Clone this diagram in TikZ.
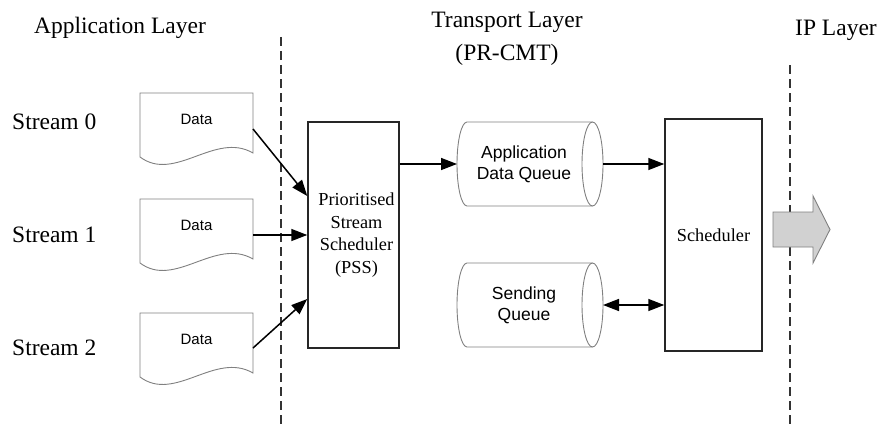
\documentclass[tikz,border=0pt]{standalone}
\usepackage{fontspec}
\setmainfont{Liberation Serif}
\newfontfamily\arialf{Liberation Sans}
\usetikzlibrary{arrows.meta,calc}
\begin{document}
\begin{tikzpicture}[x=1pt,y=-1pt,
  title/.style={font=\fontsize{23.5}{33}\selectfont, inner sep=0pt, align=center},
  boxnode/.style={draw=black!85, line width=1.5pt, inner sep=0pt, align=center,
     font=\fontsize{18.3}{22.5}\selectfont},
  frame/.style={inner sep=0pt, outer sep=0pt},
  docline/.style={draw=black!50, line width=0.9pt},
  sanstext/.style={font=\arialf\fontsize{17.5}{21}\selectfont, align=center, inner sep=0pt},
  datatext/.style={font=\arialf\fontsize{15}{18}\selectfont, inner sep=0pt},
  tip/.style={Triangle[length=16pt,width=12pt]},
  arr/.style={line width=1.5pt, -{Triangle[length=16pt,width=12pt]}},
  darr/.style={line width=1.5pt, {Triangle[length=16pt,width=12pt]}-{Triangle[length=16pt,width=12pt]}},
  dashline/.style={draw=black!80, line width=2.2pt, dash pattern=on 9pt off 5pt}
]
\useasboundingbox (0,0) rectangle (880,428);

% titles
\node[title] (tapp) at (120,28) {Application Layer};
\node[title] (ttr) at (507,38.5) {Transport Layer\\(PR-CMT)};
\node[title] (tip) at (836,30) {IP Layer};

% dashed layer boundaries
\coordinate (l1a) at (281,37);
\coordinate (l1b) at (281,428);
\coordinate (l2a) at (790,65);
\coordinate (l2b) at (790,425);
\draw[dashline] (l1a) -- (l1b);
\draw[dashline] (l2a) -- (l2b);

% stream labels
\node[title, anchor=west] (s0) at (12,122) {Stream 0};
\node[title, anchor=west] (s1) at (12,235) {Stream 1};
\node[title, anchor=west] (s2) at (12,348) {Stream 2};

% documents
\node[frame, anchor=north west, minimum width=113pt, minimum height=72pt] (d0) at (140,93) {};
\node[frame, anchor=north west, minimum width=113pt, minimum height=72pt] (d1) at (140,199) {};
\node[frame, anchor=north west, minimum width=113pt, minimum height=72pt] (d2) at (140,313) {};
\foreach \d in {d0,d1,d2}{
  \draw[docline, shift={(\d.north west)}] (0,0) -- (113,0) -- (113,60)
     .. controls (75,38) and (35,90) .. (0,64) -- cycle;
  \node[datatext] (\d t) at ([yshift=10pt]\d.center) {Data};
}

% PSS
\node[boxnode, minimum width=91pt, minimum height=226pt] (pss) at (353.5,235) {};
\node[align=center, inner sep=0pt, font=\fontsize{18.3}{22.5}\selectfont] (psst)
  at ([xshift=3pt]pss.center) {Prioritised\\Stream\\Scheduler\\(PSS)};

% Scheduler
\node[boxnode, minimum width=97pt, minimum height=232pt] (sch) at (713.5,235) {Scheduler};

% queues
\node[frame, minimum width=146pt, minimum height=84pt] (aq) at (530,164) {};
\node[frame, minimum width=146pt, minimum height=84pt] (sq) at (530,305) {};
\foreach \q in {aq,sq}{
  \draw[docline] ([xshift=-10.5pt]\q.north east) -- ([xshift=10pt]\q.north west)
     arc[start angle=90, end angle=270, x radius=10pt, y radius=42pt]
     -- ([xshift=-10.5pt]\q.south east);
  \draw[docline] ([xshift=-10.5pt]\q.east) ellipse[x radius=10.5pt, y radius=42pt];
}
\node[sanstext] (aqt) at ([xshift=-6pt]aq.center) {Application\\Data Queue};
\node[sanstext] (sqt) at ([xshift=-6pt]sq.center) {Sending\\Queue};

% connectors
\draw[arr] ([yshift=-36pt]d0.north east) -- ([yshift=39pt]pss.west);
\draw[arr] ([yshift=-36pt]d1.north east) -- (pss.west);
\draw[arr] ([yshift=-35pt]d2.north east) -- ([yshift=-64pt]pss.west);
\draw[arr] (pss.east |- aq.west) -- (aq.west);
\draw[arr] (aq.east) -- (sch.west |- aq.east);
\draw[darr] (sq.east) -- (sch.west |- sq.east);

% big output arrow
\coordinate (ga) at (773,229.5);
\draw[fill=black!18, draw=black!50, line width=0.9pt]
  (ga) ++(0,-17.5) -- ++(40,0) -- ++(0,-16) -- (830,229.5) -- (813,263) -- ++(0,-16) -- (ga |- 0,247) -- cycle;
\end{tikzpicture}
\end{document}
